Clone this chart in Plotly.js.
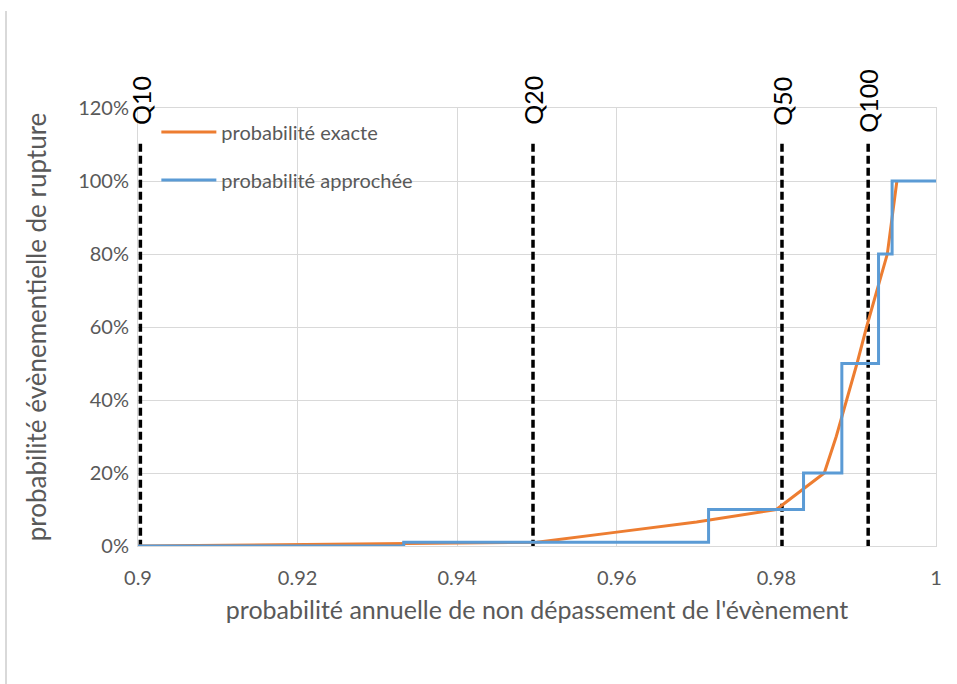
<!DOCTYPE html>
<html>
<head>
<meta charset="utf-8">
<script src="https://cdn.plot.ly/plotly-3.0.1.min.js"></script>
<style>
  html, body { margin: 0; padding: 0; background: #ffffff; }
  #chart { width: 957px; height: 684px; }
</style>
</head>
<body>
<div id="chart"></div>
<script>
// ---- data ----
const exactX = [0.9, 0.95, 0.96, 0.97, 0.98, 0.986, 0.9875, 0.9888, 0.9901, 0.9913, 0.9926, 0.9939, 0.9951];
const exactY = [0, 1, 3.8, 6.6, 10, 20, 30, 40, 50, 60, 70, 80, 100];

const approxX = [0.9, 0.9333, 0.9715, 0.9834, 0.9882, 0.9928, 0.9945, 1.0];
const approxY = [0, 1, 10, 20, 50, 80, 100, 100];

const qNames = ["Q10", "Q20", "Q50", "Q100"];
const qX = [0.9003, 0.9495, 0.9807, 0.9915];
const qLineTop = 111;
const qLineBottom = -0.5;
const qLabelY = 122;

const xTickVals = [0.9, 0.92, 0.94, 0.96, 0.98, 1.0];
const xTickText = ["0.9", "0.92", "0.94", "0.96", "0.98", "1"];
const yTickVals = [0, 20, 40, 60, 80, 100, 120];
const yTickText = ["0%", "20%", "40%", "60%", "80%", "100%", "120%"];

const seriesNames = ["probabilité exacte", "probabilité approchée"];
const xTitle = "probabilité annuelle de non dépassement de l'évènement";
const yTitle = "probabilité évènementielle de rupture";

// ---- traces ----
const FONT = "Lato, 'Open Sans', sans-serif";
const GREY = "#595959";
const Y_MAX = 120;
const traces = [];

qX.forEach((x) => {
  traces.push({
    x: [x, x], y: [qLineBottom, qLineTop],
    mode: "lines", type: "scatter", showlegend: false, hoverinfo: "skip",
    line: { color: "#000000", width: 3.5, dash: "8px,4px" },
    cliponaxis: false
  });
});

traces.push({
  x: exactX, y: exactY, name: seriesNames[0], mode: "lines", type: "scatter",
  line: { color: "#ED7D31", width: 3 }, legendgroup: "a"
});
traces.push({
  x: approxX, y: approxY, name: seriesNames[1], mode: "lines", type: "scatter",
  line: { color: "#5B9BD5", width: 3, shape: "hv" }, legendgroup: "b"
});

const annotations = qNames.map((n, i) => ({
  x: qX[i], y: qLabelY / Y_MAX, xref: "x", yref: "paper", text: n, showarrow: false,
  textangle: -90, font: { family: FONT, size: 25, color: "#000000" },
  xanchor: "center", yanchor: "middle"
}));

const layout = {
  width: 957, height: 684,
  margin: { l: 138, r: 21, t: 108, b: 138 },
  paper_bgcolor: "#ffffff", plot_bgcolor: "#ffffff",
  font: { family: FONT, color: GREY, size: 20 },
  showlegend: true,
  legend: {
    x: 0.023, y: 0.99, xanchor: "left", yanchor: "top",
    bgcolor: "rgba(0,0,0,0)", traceorder: "grouped", tracegroupgap: 19,
    font: { family: FONT, size: 20, color: GREY }, itemwidth: 55
  },
  xaxis: {
    range: [0.9, 1.0], tickvals: xTickVals, ticktext: xTickText,
    showgrid: true, gridcolor: "#D9D9D9", gridwidth: 1,
    showline: true, mirror: true, linecolor: "#D9D9D9", linewidth: 1,
    zeroline: false, ticks: "", ticklabelstandoff: 14,
    tickfont: { family: FONT, size: 20, color: GREY },
    title: { text: xTitle, font: { family: FONT, size: 25, color: GREY }, standoff: 13 }
  },
  yaxis: {
    range: [0, Y_MAX], tickvals: yTickVals, ticktext: yTickText,
    showgrid: true, gridcolor: "#D9D9D9", gridwidth: 1,
    showline: true, mirror: true, linecolor: "#D9D9D9", linewidth: 1,
    zeroline: false, ticks: "", ticklabelstandoff: 4,
    tickfont: { family: FONT, size: 20, color: GREY },
    title: { text: yTitle, font: { family: FONT, size: 26, color: GREY }, standoff: 24 }
  },
  annotations: annotations,
  shapes: [{
    type: "line", xref: "paper", yref: "paper",
    x0: -0.1654, x1: -0.1654, y0: 1.2215, y1: -0.32,
    line: { color: "#D9D9D9", width: 2 }
  }]
};

Plotly.newPlot("chart", traces, layout, { displayModeBar: false, staticPlot: true });
</script>
</body>
</html>
